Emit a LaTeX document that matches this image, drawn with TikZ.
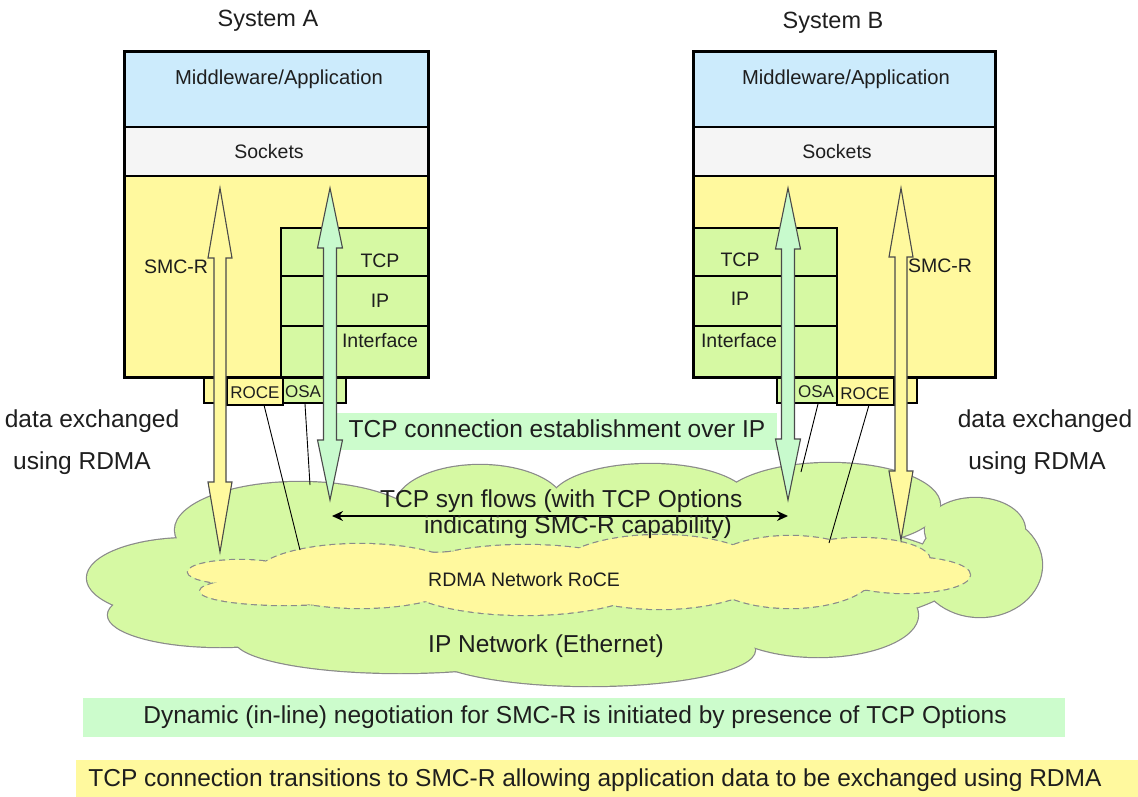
\documentclass[tikz,border=0pt]{standalone}
\usepackage{fontspec}
\setmainfont{Liberation Sans}
\usetikzlibrary{arrows.meta}
\definecolor{mwblue}{HTML}{CCEBFC}
\definecolor{sockgray}{HTML}{F5F5F5}
\definecolor{smcyellow}{HTML}{FFF99E}
\definecolor{stackgreen}{HTML}{D6F9A3}
\definecolor{mint}{HTML}{C8FACD}
\definecolor{bandgreen}{HTML}{CCFCCC}
\definecolor{txt}{HTML}{1E1E1E}
\definecolor{cloudline}{HTML}{8A8A8A}
\definecolor{arrowgray}{HTML}{4A4A4A}
\newcommand\myblockarrow[7]{% x, top tip, bottom tip, head length, half head, half shaft, fill
  \draw[arrowline, fill=#7] (#1,#2) -- (#1+#5,#2+#4) -- (#1+#6,#2+#4) -- (#1+#6,#3-#4)
    -- (#1+#5,#3-#4) -- (#1,#3) -- (#1-#5,#3-#4) -- (#1-#6,#3-#4) -- (#1-#6,#2+#4)
    -- (#1-#5,#2+#4) -- cycle;}
\begin{document}
\begin{tikzpicture}[x=1pt,y=-1pt,
  every node/.style={inner sep=0pt, text=txt},
  big/.style={font=\fontsize{24.5}{29}\selectfont},
  lab/.style={font=\fontsize{19.5}{23}\selectfont},
  mwlab/.style={font=\fontsize{20.2}{24}\selectfont},
  small/.style={font=\fontsize{17}{20}\selectfont},
  sys/.style={font=\fontsize{23.5}{28}\selectfont},
  thickline/.style={line width=2.6pt, draw=black},
  thinbox/.style={line width=1.1pt, draw=black},
  arrowline/.style={line width=1.1pt, draw=arrowgray},
  cloudedge/.style={line width=2.4pt, draw=cloudline},
  conn/.style={line width=0.9pt, draw=black}]
\useasboundingbox (0,0) rectangle (1138,797);
\fill[white] (0,0) rectangle (1138,797);

% ---------- IP network cloud ----------
\def\greencloud{190/578/103/40, 300/530/125/48, 220/615/112/32, 400/640/165/33,
  590/650/165/36, 818/615/100/42, 980/565/62/52, 650/502/100/38, 830/505/110/42,
  480/507/85/42, 975/530/50/32, 580/575/380/70}
\foreach \cx/\cy/\rx/\ry in \greencloud
  \draw[cloudedge] (\cx,\cy) ellipse [x radius=\rx pt, y radius=\ry pt];
\foreach \cx/\cy/\rx/\ry in \greencloud
  \fill[stackgreen] (\cx,\cy) ellipse [x radius=\rx pt, y radius=\ry pt];

% ---------- RDMA network cloud ----------
\def\yellowcloud{240/572/52/12, 285/591/85/14, 360/576/105/32, 525/580/125/35,
  660/572/105/37, 790/572/85/36, 860/560/70/22, 905/575/65/18, 585/576/330/26}
\foreach \cx/\cy/\rx/\ry in \yellowcloud
  \draw[cloudedge, dash pattern=on 6pt off 4pt] (\cx,\cy) ellipse [x radius=\rx pt, y radius=\ry pt];
\foreach \cx/\cy/\rx/\ry in \yellowcloud
  \fill[smcyellow] (\cx,\cy) ellipse [x radius=\rx pt, y radius=\ry pt];

\node[lab, anchor=base west] (rdmanet) at (428,586) {RDMA Network RoCE};
\node[big, anchor=base west] (ipnet) at (428,652) {IP Network (Ethernet)};

% ---------- bands ----------
\fill[bandgreen] (337,413) rectangle (777,450);
\node[big, anchor=base] (tcpest) at (557,437) {TCP connection establishment over IP};
\fill[bandgreen] (83,698) rectangle (1065,737);
\node[big, anchor=base] (note1) at (575,723) {Dynamic (in-line) negotiation for SMC-R is initiated by presence of TCP Options};
\fill[smcyellow] (76,760) rectangle (1138,797);
\node[big, anchor=base] (note2) at (595,786) {TCP connection transitions to SMC-R allowing application data to be exchanged using RDMA};

% ---------- side texts ----------
\node[big, anchor=base] (dxA) at (92,427) {data exchanged};
\node[big, anchor=base] (urA) at (82,469) {using RDMA};
\node[big, anchor=base] (dxB) at (1045,427) {data exchanged};
\node[big, anchor=base] (urB) at (1037,469) {using RDMA};

% ---------- adapters under System A ----------
\fill[smcyellow] (204,376) rectangle (283,403);
\fill[stackgreen] (283,376) rectangle (346,403);
\draw[thinbox] (204,376) rectangle (346,403);
\draw[thinbox, fill=smcyellow] (227,376) rectangle (283,405);
\node[small, anchor=base] (roceA) at (255,398) {ROCE};
\node[small, anchor=base] (osaA) at (303,397) {OSA};

% ---------- adapters under System B ----------
\fill[stackgreen] (777,376) rectangle (837,403);
\fill[smcyellow] (837,376) rectangle (917,403);
\draw[thinbox] (777,376) rectangle (917,403);
\draw[thinbox, fill=smcyellow] (837,376) rectangle (894,405);
\node[small, anchor=base] (osaB) at (816,397) {OSA};
\node[small, anchor=base] (roceB) at (865,399) {ROCE};

% ---------- System A ----------
\fill[mwblue] (124,52) rectangle (428,127);
\fill[sockgray] (124,127) rectangle (428,176);
\fill[smcyellow] (124,176) rectangle (428,377);
\fill[stackgreen] (281,228) rectangle (428,377);
\draw[thickline] (281,377) -- (281,228) -- (428,228);
\draw[thickline] (281,276) -- (428,276);
\draw[thickline] (281,326) -- (428,326);
\draw[thickline] (124,127) -- (428,127);
\draw[thickline] (124,176) -- (428,176);
\draw[line width=3pt] (124,52) rectangle (428,377);
\node[sys, anchor=base] (sysA) at (268,27) {System A};
\node[mwlab, anchor=base] (mwA) at (279,85) {Middleware/Application};
\node[lab, anchor=base] (sockA) at (269,159) {Sockets};
\node[lab, anchor=base] (tcpA) at (380,267) {TCP};
\node[lab, anchor=base] (ipA) at (380,307) {IP};
\node[lab, anchor=base] (ifA) at (380,347) {Interface};
\node[lab, anchor=base] (smcA) at (176,273) {SMC-R};

% ---------- System B ----------
\fill[mwblue] (693,52) rectangle (995,127);
\fill[sockgray] (693,127) rectangle (995,176);
\fill[smcyellow] (693,176) rectangle (995,377);
\fill[stackgreen] (693,228) rectangle (837,377);
\draw[thickline] (837,377) -- (837,228) -- (693,228);
\draw[thickline] (693,276) -- (837,276);
\draw[thickline] (693,326) -- (837,326);
\draw[thickline] (693,127) -- (995,127);
\draw[thickline] (693,176) -- (995,176);
\draw[line width=3pt] (693,52) rectangle (995,377);
\node[sys, anchor=base] (sysB) at (833,29) {System B};
\node[mwlab, anchor=base] (mwB) at (846,85) {Middleware/Application};
\node[lab, anchor=base] (sockB) at (837,159) {Sockets};
\node[lab, anchor=base] (tcpB) at (740,266) {TCP};
\node[lab, anchor=base] (ipB) at (740,305) {IP};
\node[lab, anchor=base] (ifB) at (739,347) {Interface};
\node[lab, anchor=base] (smcB) at (940,272) {SMC-R};

% ---------- adapter links into the networks ----------
\coordinate (roceAbot) at (264,405);
\coordinate (osaAbot) at (305,404);
\coordinate (osaBbot) at (818,404);
\coordinate (roceBbot) at (869,405);
\coordinate (rdmaA) at (300,550);
\coordinate (ipnA) at (310,485);
\coordinate (ipnB) at (801,472);
\coordinate (rdmaB) at (829,543);
\draw[conn] (roceAbot) -- (rdmaA);
\draw[conn] (osaAbot) -- (ipnA);
\draw[conn] (osaBbot) -- (ipnB);
\draw[conn] (roceBbot) -- (rdmaB);

% ---------- block arrows ----------
\myblockarrow{220}{188}{552}{70}{12}{6}{smcyellow}
\myblockarrow{330}{188}{500}{60}{12.5}{6.5}{mint}
\myblockarrow{788}{188}{500}{61}{12.5}{6.5}{mint}
\myblockarrow{901}{188}{540}{69}{12}{6}{smcyellow}

% ---------- TCP syn flows ----------
\coordinate (synL) at (332,516);
\coordinate (synR) at (788,516);
\draw[line width=1.3pt, {Stealth[length=11pt,width=10pt]}-{Stealth[length=11pt,width=10pt]}] (synL) -- (synR);
\node[big, anchor=base west] (syn1) at (380,507) {TCP syn flows (with TCP Options};
\node[big, anchor=base west] (syn2) at (424,533) {indicating SMC-R capability)};
\end{tikzpicture}
\end{document}
